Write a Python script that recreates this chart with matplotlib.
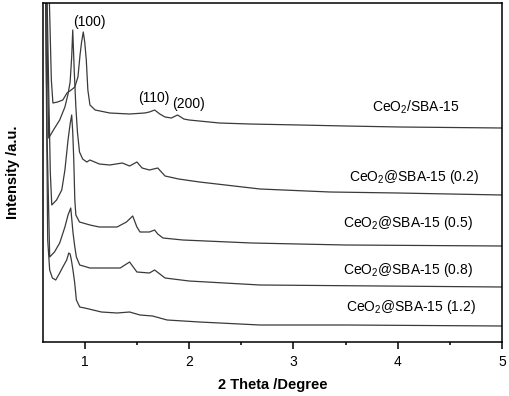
import matplotlib
matplotlib.use("Agg")
import matplotlib.pyplot as plt
from matplotlib.ticker import MultipleLocator, NullLocator

plt.rcParams['font.family'] = ['Liberation Sans', 'DejaVu Sans']
plt.rcParams['mathtext.fontset'] = 'custom'
plt.rcParams['mathtext.rm'] = 'Liberation Sans'
plt.rcParams['mathtext.it'] = 'Liberation Sans:italic'
plt.rcParams['mathtext.bf'] = 'Liberation Sans:bold'

# ---- data (2 theta in degrees, intensity in arbitrary units incl. offset) ----
x_sba = [0.60, 0.64, 0.66, 0.68, 0.695, 0.74, 0.79, 0.83, 0.87, 0.905, 0.935, 0.955, 0.97,
         0.986, 1.00, 1.015, 1.03, 1.05, 1.10, 1.24, 1.43, 1.575, 1.62, 1.67, 1.72, 1.77,
         1.83, 1.89, 1.95, 2.0, 2.29, 2.58, 3.06, 3.5, 4.02, 5.0]
y_sba = [720, 480, 345, 262, 239, 240, 242, 249, 252, 255, 265, 287, 300,
         310, 300, 282, 252, 237, 232, 229, 228, 229, 230, 232, 228, 225,
         224, 227, 223, 222, 219, 218, 217, 216, 215, 214]

x_02 = [0.60, 0.63, 0.645, 0.655, 0.70, 0.76, 0.81, 0.84, 0.86, 0.875, 0.885, 0.90, 0.915,
        0.93, 0.95, 0.98, 1.02, 1.05, 1.14, 1.24, 1.36, 1.43, 1.50, 1.55, 1.62, 1.66, 1.70,
        1.77, 1.90, 2.10, 2.68, 3.35, 4.0, 5.0]
y_02 = [720, 380, 262, 204, 212, 222, 235, 248, 260, 285, 312, 270, 235,
        210, 190, 183, 180, 182, 178, 177, 179, 176, 180, 174, 172, 173, 174,
        166, 163, 160, 153, 150, 149, 147]

x_05 = [0.60, 0.63, 0.655, 0.67, 0.684, 0.73, 0.78, 0.81, 0.84, 0.86, 0.875, 0.885, 0.895,
        0.905, 0.915, 0.95, 1.05, 1.14, 1.31, 1.40, 1.46, 1.50, 1.53, 1.62, 1.67, 1.70,
        1.75, 1.94, 2.6, 3.5, 5.0]
y_05 = [720, 400, 250, 170, 137, 142, 152, 172, 202, 218, 227, 210, 182,
        142, 127, 120, 117, 115, 115, 120, 126, 115, 110, 110, 112, 108,
        104, 102, 99, 97, 96]

x_08 = [0.60, 0.62, 0.64, 0.664, 0.71, 0.76, 0.81, 0.84, 0.866, 0.888, 0.905, 0.92, 0.952,
        1.05, 1.24, 1.34, 1.43, 1.50, 1.62, 1.67, 1.77, 2.0, 2.68, 5.0]
y_08 = [720, 400, 200, 85, 90, 99, 115, 127, 134, 109, 95, 85, 77,
        74, 74, 74, 80, 70, 69, 72, 64, 61, 57, 55]

x_12 = [0.60, 0.62, 0.645, 0.664, 0.69, 0.722, 0.76, 0.79, 0.827, 0.847, 0.86, 0.872, 0.89,
        0.904, 0.92, 0.952, 1.0, 1.16, 1.31, 1.43, 1.53, 1.65, 1.79, 2.1, 2.68, 3.5, 5.0]
y_12 = [720, 400, 102, 72, 64, 62, 69, 75, 82, 89, 88, 82, 70,
        59, 42, 35, 34, 30, 29, 30, 27, 26, 22, 20, 17, 17, 16]

series = [(x_sba, y_sba), (x_02, y_02), (x_05, y_05), (x_08, y_08), (x_12, y_12)]

labels = [r'CeO$_2$/SBA-15', r'CeO$_2$@SBA-15 (0.2)', r'CeO$_2$@SBA-15 (0.5)',
          r'CeO$_2$@SBA-15 (0.8)', r'CeO$_2$@SBA-15 (1.2)']
label_x = [4.595, 4.777, 4.72, 4.72, 4.75]
label_y = [235, 165, 119, 72, 35]

peak_labels = ['(100)', '(110)', '(200)']
peak_x = [1.043, 1.66, 1.99]
peak_y = [320, 244, 238]

# ---- figure ----
fig = plt.figure(figsize=(5.10, 3.96), dpi=100)
ax = fig.add_axes([43/510, 1-342/396, 459/510, 339/396])

for xs, ys in series:
    ax.plot(xs, ys, color='#3a3a3a', lw=0.9)

for t, xx, yy in zip(labels, label_x, label_y):
    ax.text(xx, yy, t, ha='right', va='center', fontsize=10, color='black')

for t, xx, yy in zip(peak_labels, peak_x, peak_y):
    ax.text(xx, yy, t, ha='center', va='center', fontsize=10, color='black')

ax.set_xlim(0.6, 5.0)
ax.set_ylim(0, 339)
ax.xaxis.set_major_locator(MultipleLocator(1))
ax.xaxis.set_minor_locator(MultipleLocator(0.5))
ax.yaxis.set_major_locator(NullLocator())
ax.yaxis.set_minor_locator(NullLocator())
ax.tick_params(axis='x', which='major', direction='out', length=5, width=1.1,
               labelsize=10, pad=4)
ax.tick_params(axis='x', which='minor', direction='out', length=2.5, width=1.1)
for s in ax.spines.values():
    s.set_linewidth(1.1)

ax.set_xlabel('2 Theta /Degree', fontsize=10.5, fontweight='bold')
ax.set_ylabel('Intensity /a.u.', fontsize=10.5, fontweight='bold')
ax.xaxis.set_label_coords(0.5, -0.105)
ax.yaxis.set_label_coords(-0.05, 0.5)

fig.savefig('out.png', dpi=100)
